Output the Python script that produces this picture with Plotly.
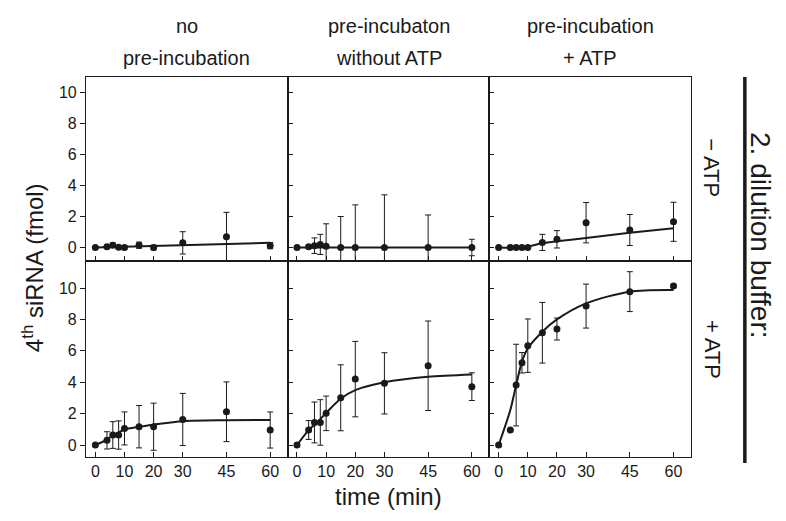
import plotly.graph_objects as go
from plotly.subplots import make_subplots

# sampling times (min), shared by all panels
times = [0, 4, 6, 8, 10, 15, 20, 30, 45, 60]

# row 1: "- ATP" dilution buffer
no_pre_minus = [0, 0.05, 0.15, 0.02, 0.0, 0.15, 0.0, 0.3, 0.7, 0.12]
no_pre_minus_err = [0, 0.1, 0.15, 0.1, 0.1, 0.2, 0.15, 0.72, 1.57, 0.2]
no_pre_minus_fit_t = [0, 60]
no_pre_minus_fit = [0, 0.3]

pre_noatp_minus = [0, 0.05, 0.12, 0.2, 0.08, 0, 0, 0, 0, 0]
pre_noatp_minus_err = [0, 0.1, 0.5, 0.65, 1.45, 2.0, 2.75, 3.4, 2.1, 0.53]
pre_noatp_minus_fit_t = [0, 60]
pre_noatp_minus_fit = [0, 0]

pre_atp_minus = [0, 0, 0, 0, 0, 0.33, 0.53, 1.6, 1.13, 1.66]
pre_atp_minus_err = [0, 0.05, 0.05, 0.05, 0.05, 0.52, 0.56, 1.3, 1.0, 1.26]
pre_atp_minus_fit_t = [0, 8, 15, 20, 30, 45, 60]
pre_atp_minus_fit = [0, 0, 0.27, 0.4, 0.62, 0.95, 1.24]

# row 2: "+ ATP" dilution buffer
no_pre_plus = [0, 0.3, 0.64, 0.64, 1.06, 1.17, 1.17, 1.63, 2.12, 0.96]
no_pre_plus_err = [0.05, 0.55, 0.85, 0.9, 1.05, 1.35, 1.5, 1.66, 1.9, 1.15]
no_pre_plus_fit_t = times
no_pre_plus_fit = [0, 0.35, 0.62, 0.8, 1.0, 1.17, 1.3, 1.52, 1.58, 1.6]

pre_noatp_plus = [0, 0.96, 1.44, 1.44, 2.02, 3.01, 4.2, 3.93, 5.05, 3.72]
pre_noatp_plus_err = [0.05, 0.6, 1.3, 1.45, 1.1, 2.1, 2.4, 1.95, 2.85, 0.88]
pre_noatp_plus_fit_t = times
pre_noatp_plus_fit = [0, 0.95, 1.3, 1.65, 2.05, 2.95, 3.5, 4.0, 4.35, 4.5]

pre_atp_plus = [0, 0.96, 3.82, 5.24, 6.33, 7.15, 7.39, 8.85, 9.77, 10.13]
pre_atp_plus_err = [0, 0, 2.6, 0.65, 1.7, 1.93, 0.7, 1.4, 1.27, 0.1]
pre_atp_plus_fit_t = times
pre_atp_plus_fit = [0, 2.23, 3.82, 5.31, 6.16, 7.22, 8.0, 9.02, 9.77, 9.87]

col_titles = [("no", "pre-incubation"),
              ("pre-incubaton", "without ATP"),
              ("pre-incubation", "+ ATP")]
x_ticks = [0, 10, 20, 30, 45, 60]
y_ticks = [0, 2, 4, 6, 8, 10]

FONT = "Liberation Sans, Arial, Helvetica, sans-serif"
INK = "#1a1a1a"

panels = [
    (1, 1, no_pre_minus, no_pre_minus_err, no_pre_minus_fit_t, no_pre_minus_fit),
    (1, 2, pre_noatp_minus, pre_noatp_minus_err, pre_noatp_minus_fit_t, pre_noatp_minus_fit),
    (1, 3, pre_atp_minus, pre_atp_minus_err, pre_atp_minus_fit_t, pre_atp_minus_fit),
    (2, 1, no_pre_plus, no_pre_plus_err, no_pre_plus_fit_t, no_pre_plus_fit),
    (2, 2, pre_noatp_plus, pre_noatp_plus_err, pre_noatp_plus_fit_t, pre_noatp_plus_fit),
    (2, 3, pre_atp_plus, pre_atp_plus_err, pre_atp_plus_fit_t, pre_atp_plus_fit),
]

fig = make_subplots(rows=2, cols=3, horizontal_spacing=0, vertical_spacing=0,
                    row_heights=[183.7, 196.3])

for row, col, vals, errs, fit_t, fit_y in panels:
    fig.add_trace(go.Scatter(x=fit_t, y=fit_y, mode="lines",
                             line=dict(color=INK, width=2, shape="spline", smoothing=0.8),
                             showlegend=False, hoverinfo="skip"), row=row, col=col)
    fig.add_trace(go.Scatter(x=times, y=vals, mode="markers",
                             marker=dict(color=INK, size=7),
                             error_y=dict(type="data", array=errs, color=INK,
                                          thickness=1, width=3),
                             showlegend=False), row=row, col=col)

for row in (1, 2):
    yr = [-0.85, 11.0] if row == 1 else [-0.76, 11.74]
    for col in (1, 2, 3):
        fig.update_xaxes(range=[-3.2, 66], tickvals=x_ticks, ticks="inside", ticklen=5,
                         tickcolor=INK, showline=True, linecolor=INK, linewidth=1.2,
                         mirror=True, showgrid=False, zeroline=False,
                         showticklabels=(row == 2),
                         tickfont=dict(family=FONT, size=16, color=INK),
                         row=row, col=col)
        fig.update_yaxes(range=yr, tickvals=y_ticks,
                         ticks="outside" if col == 1 else "inside", ticklen=5,
                         tickcolor=INK, showline=True, linecolor=INK, linewidth=1.2,
                         mirror=True, showgrid=False, zeroline=False,
                         showticklabels=(col == 1),
                         tickfont=dict(family=FONT, size=16, color=INK),
                         row=row, col=col)


def label(x, y, text, size, angle=0, yshift=0):
    return dict(x=x, y=y, xref="paper", yref="paper", text=text, textangle=angle,
                showarrow=False, xanchor="center", yanchor="middle", yshift=yshift,
                font=dict(family=FONT, size=size, color=INK))


annotations = []
for i, (line1, line2) in enumerate(col_titles):
    cx = (2 * i + 1) / 6
    annotations.append(label(cx, 1, line1, 20, yshift=51))
    annotations.append(label(cx, 1, line2, 20, yshift=19))

annotations += [
    label(1.0347, 0.76, "\u2212 ATP", 22, angle=90),
    label(1.0347, 0.2816, "+ ATP", 22, angle=90),
    label(1.114, 0.5816, "2. dilution buffer:", 28, angle=90),
    label(-0.0876, 0.497, "4<sup>th</sup> siRNA (fmol)", 24, angle=-90),
    label(0.5, -0.105, "time (min)", 24),
]

# the page body adds an 8 px offset, so the figure is 16 px smaller than the window
fig.update_layout(
    width=770, height=505,
    margin=dict(l=78, r=87, t=69, b=56),
    paper_bgcolor="white", plot_bgcolor="white",
    annotations=annotations,
    shapes=[dict(type="line", xref="paper", yref="paper", x0=1.089, x1=1.089,
                 y0=1.0, y1=-0.016, line=dict(color=INK, width=3.5))],
)

fig.write_html("out.html")
